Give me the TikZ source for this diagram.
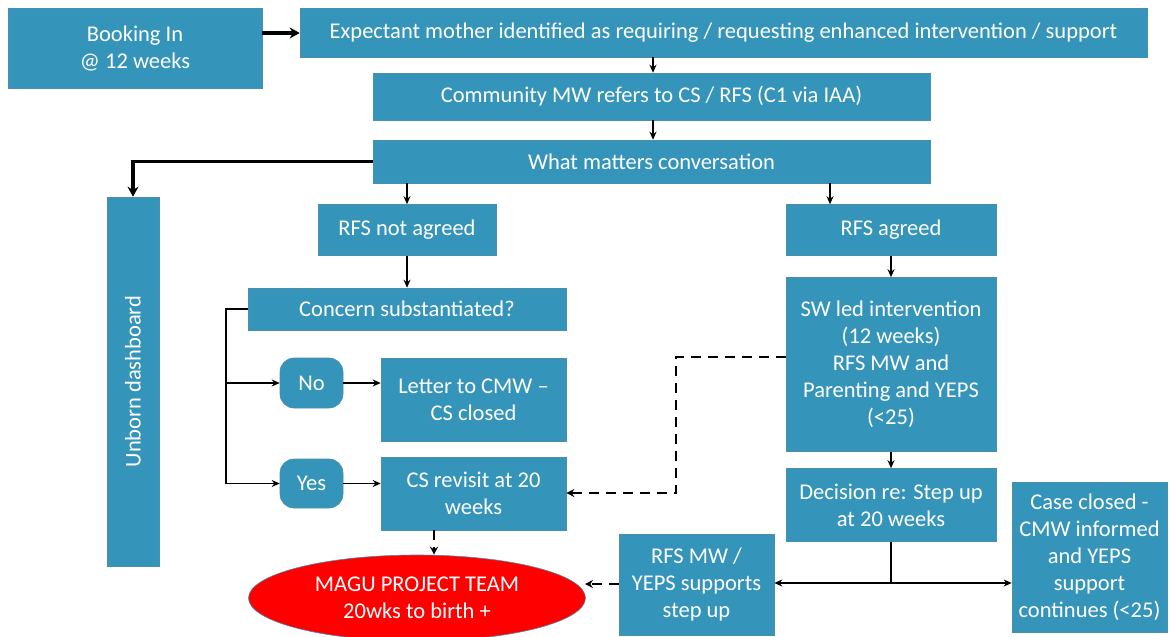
\documentclass[tikz,border=0pt]{standalone}
\usepackage{fontspec}
\setmainfont{Carlito}
\usetikzlibrary{shapes.geometric,arrows.meta}
\definecolor{boxblue}{HTML}{3594BA}
\definecolor{boxedge}{HTML}{4A8FAE}
\definecolor{magured}{HTML}{FF0000}
\begin{document}
\begin{tikzpicture}[x=1pt,y=-1pt,
  box/.style={draw=boxedge,line width=0.6pt,fill=boxblue,text=white,align=center,inner sep=0pt,
    font=\fontsize{22.5}{27}\selectfont},
  pill/.style={box,rounded corners=14pt},
  arr/.style={line width=1.8pt,-{Stealth[length=8pt,width=7pt]}},
  tarr/.style={line width=3.4pt,-{Stealth[length=10pt,width=11pt]}},
  darr/.style={line width=2.2pt,dash pattern=on 10pt off 7pt,-{Stealth[length=8pt,width=8pt]}},
  ln/.style={line width=1.8pt}]
\useasboundingbox (0,0) rectangle (1170,637);
\begin{scope}
\clip (0,0) rectangle (1170,637);
\node[box,minimum width=254pt,minimum height=80pt] (book) at (135,48) {Booking In\\@ 12 weeks};
\node[box,minimum width=847pt,minimum height=49pt] (exp) at (723.5,32.5) {Expectant mother identified as requiring / requesting enhanced intervention / support};
\node[box,minimum width=557pt,minimum height=47pt] (cmw) at (651.5,96.5) {Community MW refers to CS / RFS (C1 via IAA)};
\node[box,minimum width=557pt,minimum height=43pt] (what) at (651.5,161.5) {What matters conversation};
\node[box,minimum width=52pt,minimum height=369pt] (unb) at (133,381.5) {};
\node[text=white,rotate=90,font=\fontsize{22.5}{27}\selectfont] (unbt) at (unb.center) {Unborn dashboard};
\node[box,minimum width=178pt,minimum height=51pt] (rnot) at (407,230) {RFS not agreed};
\node[box,minimum width=210pt,minimum height=51pt] (ragr) at (891,230) {RFS agreed};
\node[box,minimum width=318pt,minimum height=42pt] (conc) at (407,309) {Concern substantiated?};
\node[box,minimum width=210pt,minimum height=174pt] (sw) at (891,364.5) {SW led intervention\\(12 weeks)\\RFS MW and\\Parenting and YEPS\\(<25)};
\node[box,minimum width=210pt,minimum height=73pt] (dec) at (891,505) {Decision re: Step up\\at 20 weeks};
\node[box,minimum width=155pt,minimum height=150pt] (case) at (1089.5,557) {Case closed -\\CMW informed\\and YEPS\\support\\continues (<25)};
\node[box,minimum width=155pt,minimum height=101pt] (rmw) at (696.5,584.5) {RFS MW /\\YEPS supports\\step up};
\node[box,minimum width=185pt,minimum height=83pt] (let) at (473.5,399.5) {Letter to CMW –\\CS closed};
\node[box,minimum width=185pt,minimum height=73pt] (csr) at (473.5,493.5) {CS revisit at 20\\weeks};
\node[pill,minimum width=63pt,minimum height=50pt] (no) at (311.5,383) {No};
\node[pill,minimum width=63pt,minimum height=49pt] (yes) at (311.5,483.5) {Yes};
\node[ellipse,draw=boxedge,line width=0.6pt,fill=magured,text=white,inner sep=0pt,
  minimum width=337pt,minimum height=86pt,align=center,font=\fontsize{22.5}{27}\selectfont] (magu) at (417,598) {MAGU PROJECT TEAM\\20wks to birth +};

\draw[tarr] (book.east |- 0,33) -- (exp.west |- 0,33);
\draw[arr] (cmw.north -| 653,0) ++(0,-16) -- (cmw.north -| 653,0);
\draw[arr] (cmw.south -| 653,0) -- (what.north -| 653,0);
\draw[tarr] (what.west) -- (133,161.5) -- (unb.north);
\draw[arr] (what.south -| rnot) -- (rnot.north);
\draw[arr] (what.south -| 830,0) -- (ragr.north -| 830,0);
\draw[arr] (rnot.south) -- (conc.north);
\draw[arr] (ragr.south) -- (sw.north);
\draw[arr] (sw.south) -- (dec.north);
\coordinate (lb) at (226,309);
\draw[ln] (conc.west) -- (lb) -- (226,483.5);
\draw[arr] (226,383) -- (no.west);
\draw[arr] (226,483.5) -- (yes.west);
\draw[arr] (no.east) -- (let.west |- no.east);
\draw[arr] (yes.east) -- (csr.west |- yes.east);
\draw[darr] (sw.west |- 0,357) -- (676,357) -- (676,493) -- (csr.east |- 0,493);
\draw[darr] (csr.south -| 434,0) -- (magu.north -| 434,0);
\coordinate (jn) at (891,583);
\draw[ln] (dec.south) -- (jn);
\draw[arr] (jn) -- (rmw.east |- jn);
\draw[arr] (jn) -- (case.west |- jn);
\draw[darr] (rmw.west |- 0,584) -- (585,584);
\end{scope}
\end{tikzpicture}
\end{document}
